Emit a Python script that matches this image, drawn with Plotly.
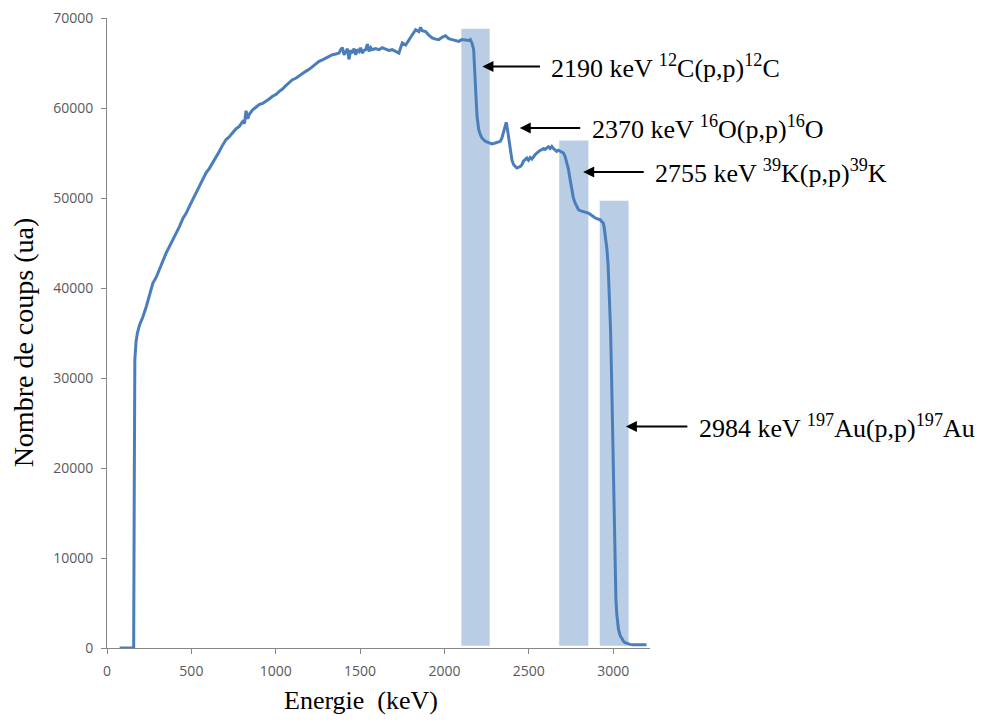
import plotly.graph_objects as go

# ---- spectrum ----
energy_kev = [
    75, 158, 162, 165, 172, 180, 193, 213, 233, 252, 272, 292, 311, 331, 351, 370,
    390, 410, 430, 449, 469, 489, 508, 528, 548, 567, 587, 607, 627, 646, 666, 686,
    706, 725, 745, 765, 784, 804, 815, 824, 834, 843, 863, 883, 902, 922, 942, 961,
    981, 1001, 1021, 1040, 1060, 1080, 1099, 1119, 1139, 1158, 1178, 1198, 1218, 1237,
    1257, 1277, 1297, 1316, 1336, 1356, 1375, 1385, 1395, 1405, 1415, 1425, 1434, 1444,
    1454, 1464, 1474, 1484, 1494, 1503, 1513, 1523, 1533, 1543, 1553, 1563, 1572, 1592,
    1612, 1631, 1651, 1671, 1690, 1710, 1730, 1740, 1750, 1770, 1789, 1809, 1829, 1848,
    1858, 1868, 1888, 1907, 1927, 1947, 1966, 1986, 2006, 2025, 2045, 2065, 2084, 2104,
    2124, 2143, 2153, 2163, 2173, 2178, 2183, 2188, 2193, 2198, 2203, 2213, 2222, 2242,
    2262, 2281, 2301, 2321, 2331, 2341, 2350, 2358, 2366, 2371, 2376, 2383, 2390, 2400,
    2410, 2429, 2449, 2459, 2468, 2478, 2488, 2498, 2508, 2518, 2527, 2537, 2547, 2557,
    2567, 2577, 2587, 2596, 2606, 2616, 2626, 2636, 2645, 2655, 2665, 2675, 2685, 2695,
    2705, 2715, 2725, 2735, 2745, 2754, 2764, 2774, 2784, 2794, 2804, 2813, 2823, 2833,
    2843, 2853, 2863, 2872, 2882, 2892, 2902, 2912, 2922, 2931, 2941, 2946, 2951, 2957,
    2963, 2970, 2977, 2984, 2990, 2996, 3001, 3006, 3011, 3016, 3021, 3026, 3031, 3041,
    3051, 3061, 3070, 3080, 3090, 3100, 3115, 3130, 3150, 3170, 3197,
]
counts = [
    0, 0, 20000, 32000, 34000, 35000, 35900, 36800, 37950, 39300, 40550, 41200, 42000, 43000, 43900, 44600,
    45400, 46200, 46850, 47700, 48300, 49100, 49800, 50700, 51300, 52100, 52800, 53300, 53900, 54600, 55200, 55900,
    56500, 56800, 57200, 57700, 57950, 58500, 58300, 59700, 58800, 59300, 59800, 60100, 60370, 60500, 60730, 61000,
    61300, 61500, 61850, 62100, 62480, 62800, 63140, 63300, 63590, 63800, 64070, 64300, 64620, 64900,
    65180, 65350, 65550, 65700, 65920, 66000, 66100, 66500, 66700, 65900, 66300, 66600, 65400, 66400,
    66100, 66600, 65900, 66500, 66290, 66700, 66100, 66400, 66480, 67100, 66300, 66700, 66480, 66600,
    66480, 66700, 66550, 66400, 66480, 66300, 66100, 66700, 67220, 67000, 67590, 68200, 68700, 68500,
    68950, 68600, 68500, 68100, 67780, 67650, 67590, 67850, 68030, 67700, 67590, 67500, 67400, 67600,
    67590, 67500, 67600, 67200, 66480, 65000, 62780, 60800, 59070, 58200, 57590, 57000, 56670, 56300,
    56110, 56000, 56110, 56200, 56290, 56700, 57400, 57900, 58400, 57900, 57220, 56000, 55000, 54200,
    53700, 53330, 53500, 53700, 54100, 54300, 54440, 54200, 54500, 54330, 54600, 54800, 55000, 55200,
    55300, 55370, 55500, 55400, 55560, 55700, 55500, 55730, 55500, 55300, 55180, 55300, 55200, 55180,
    55000, 54620, 54000, 53150, 52000, 50920, 50000, 49440, 49000, 48700, 48600, 48550, 48510, 48400,
    48350, 48330, 48200, 48050, 47960, 47800, 47700, 47650, 47590, 47400, 47220, 46800, 46110, 45300,
    44260, 42500, 39500, 35500, 30500, 25000, 19000, 13000, 8500, 5400, 3800, 2800, 2100, 1400,
    1000, 750, 600, 520, 450, 400, 370, 360, 370, 360, 370,
]

# ---- shaded bands (energy window and height) ----
band_start = [2100, 2680, 2920]
band_end = [2268, 2853, 3091]
band_top = [68800, 56400, 49700]

# ---- reaction labels and arrow targets ----
label_texts = [
    "2190 keV <sup>12</sup>C(p,p)<sup>12</sup>C",
    "2370 keV <sup>16</sup>O(p,p)<sup>16</sup>O",
    "2755 keV <sup>39</sup>K(p,p)<sup>39</sup>K",
    "2984 keV <sup>197</sup>Au(p,p)<sup>197</sup>Au",
]
arrow_energy = [2225, 2446, 2822, 3075]
arrow_counts = [64620, 57780, 52890, 24620]

x_ticks = [0, 500, 1000, 1500, 2000, 2500, 3000]
y_ticks = [0, 10000, 20000, 30000, 40000, 50000, 60000, 70000]

fig = go.Figure()

fig.add_trace(go.Scatter(
    x=energy_kev, y=counts, mode="lines",
    line=dict(color="#4a7ebb", width=3),
    showlegend=False, hoverinfo="skip",
))

shapes = []
for x0, x1, top in zip(band_start, band_end, band_top):
    shapes.append(dict(type="rect", xref="x", yref="y", x0=x0, x1=x1, y0=250, y1=top,
                       fillcolor="#b9cde5", line=dict(width=0), layer="below"))

serif = "Liberation Serif, Times New Roman, serif"
annotations = []
tail_px = [59, 62, 62, 63]
text_gap = 8
for txt, ex, cy, tp in zip(label_texts, arrow_energy, arrow_counts, tail_px):
    annotations.append(dict(x=ex, y=cy, xref="x", yref="y", ax=tp, ay=0,
                            axref="pixel", ayref="pixel", text="", showarrow=True,
                            arrowhead=2, arrowsize=1.1, arrowwidth=2, arrowcolor="#000000"))
    annotations.append(dict(x=ex, y=cy, xref="x", yref="y", text=txt, showarrow=False,
                            xanchor="left", yanchor="middle", xshift=tp + text_gap,
                            font=dict(family=serif, size=26, color="#000000")))

annotations.append(dict(text="Energie&nbsp;&nbsp;(keV)", xref="paper", yref="paper",
                        x=0.468, y=-0.083, showarrow=False, xanchor="center", yanchor="middle",
                        font=dict(family=serif, size=26, color="#000000")))
annotations.append(dict(text="Nombre de coups (ua)", xref="paper", yref="paper",
                        x=-0.153, y=0.485, showarrow=False, xanchor="center", yanchor="middle",
                        textangle=-90, font=dict(family=serif, size=28, color="#000000")))

axis_font = dict(family="Open Sans, sans-serif", size=14, color="#595959")
fig.update_layout(
    width=980, height=712,
    margin=dict(l=99, r=338, t=10, b=72),
    paper_bgcolor="white", plot_bgcolor="white",
    shapes=shapes, annotations=annotations,
    xaxis=dict(range=[0, 3218], tickvals=x_ticks, ticktext=[str(v) for v in x_ticks],
               showgrid=False, zeroline=False, showline=True, linecolor="#868686", linewidth=1,
               ticks="outside", ticklen=5, tickcolor="#868686", tickfont=axis_font,
               ticklabelstandoff=5, automargin=False, ticklabeloverflow="allow"),
    yaxis=dict(range=[0, 70000], tickvals=y_ticks, ticktext=[str(v) for v in y_ticks],
               showgrid=False, zeroline=False, showline=True, linecolor="#868686", linewidth=1,
               ticks="outside", ticklen=5, tickcolor="#868686", tickfont=axis_font,
               ticklabelstandoff=5, automargin=False, ticklabeloverflow="allow"),
)

fig.write_html("out.html")
